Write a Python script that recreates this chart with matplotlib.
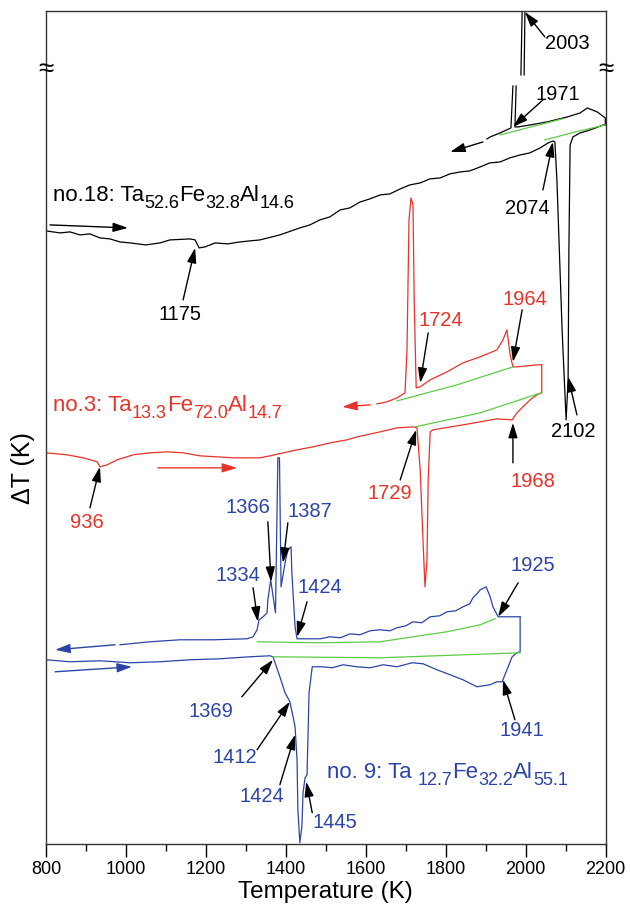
import numpy as np
import matplotlib
matplotlib.use("Agg")
import matplotlib.pyplot as plt
from matplotlib.ticker import MultipleLocator

plt.rcParams["font.family"] = ["Liberation Sans", "DejaVu Sans"]

nan = float("nan")
RED = "#e8322a"
BLUE = "#2c44a6"
GREEN = "#5ccc46"

# no.18 (black) heating run
black_heat_T = [800, 835, 860, 885, 910, 935, 960, 985, 1010, 1050, 1085, 1110, 1160, 1173,
                1183, 1198, 1223, 1255, 1285, 1335, 1385, 1435, 1460, 1485, 1510, 1536,
                1560, 1586, 1610, 1636, 1660, 1686, 1710, 1736, 1760, 1786, 1810, 1836,
                1860, 1886, 1910, 1936, 1960, 1986, 2010, 2036, 2056, 2068, 2073, 2078,
                2091, 2101, 2106, 2108, 2111, 2118, 2136, 2161, 2194, 2199]
black_heat_dT = [613, 611, 612, 609, 610, 606, 605, 602, 601, 599, 601, 604, 605, 604,
                 596, 597, 601, 600, 602, 604, 609, 616, 619, 624, 627, 634,
                 636, 642, 645, 649, 650, 655, 659, 661, 665, 666, 670, 672,
                 673, 677, 681, 682, 686, 689, 691, 696, 701, 703, 702, 664,
                 514, 424, 464, 594, 699, 707, 711, 714, 719, 719]
# no.18 cooling run (spike crosses the axis break)
black_cool_T = [2199, 2199, 2179, 2154, 2136, 2104, 2053, 2011, 1981, 1973, 1976, nan,
                1996, 1998, 1991, 1988, nan, 1968, 1963, 1936, 1911, 1903]
black_cool_dT = [719, 726, 732, 736, 731, 727, 722, 719, 717, 717, 758, nan,
                 769, 833, 833, 769, nan, 758, 716, 711, 707, 705]
black_base_up_T = [1936, 2013, 2091]
black_base_up_dT = [709, 717, 725]
black_base_lo_T = [2048, 2124, 2199]
black_base_lo_dT = [704, 712, 719]

# no.3 (red)
red_heat_T = [800, 853, 893, 928, 935, 953, 978, 1018, 1060, 1103, 1143, 1185, 1228, 1268,
              1335, 1360, 1428, 1468, 1511, 1553, 1578, 1636, 1678, 1718, 1728, 1736, 1743,
              1748, 1753, 1756, 1761, 1768, 1843, 1886, 1928, 1966, 1978, 1993, 2011, 2028,
              2040, 2040]
red_heat_dT = [391, 389, 386, 382, 377, 379, 384, 389, 391, 392, 391, 388, 387, 386,
               386, 388, 394, 397, 401, 404, 407, 412, 416, 417, 416, 374, 304,
               257, 284, 364, 412, 414, 419, 422, 425, 424, 431, 437, 444, 449,
               451, 479]
red_cool_T = [2040, 2028, 1978, 1968, 1961, 1953, 1943, 1928, 1886, 1843, 1803, 1761, 1736,
              1726, 1721, 1718, 1713, 1708, 1703, 1698, 1678, 1653, 1628]
red_cool_dT = [479, 479, 477, 477, 489, 514, 504, 494, 487, 481, 472, 464, 457,
               456, 544, 639, 646, 624, 494, 451, 446, 442, 440]
red_base_up_T = [1678, 1828, 1968]
red_base_up_dT = [443, 459, 477]
red_base_lo_T = [1723, 1886, 2038]
red_base_lo_dT = [417, 431, 451]

# no.9 (blue)
blue_heat_T = [800, 860, 935, 1010, 1085, 1160, 1235, 1310, 1360, 1368, 1373, 1385, 1398,
               1410, 1418, 1423, 1428, 1430, 1435, 1440, 1443, 1448, 1453, 1458, 1466,
               1491, 1516, 1543, 1578, 1611, 1643, 1678, 1716, 1743, 1778, 1811, 1843,
               1878, 1911, 1928, 1941, 1953, 1966, 1978, 1986, 1986]
blue_heat_dT = [184, 182, 183, 181, 182, 184, 185, 187, 188, 187, 181, 167, 151,
                142, 127, 117, 84, 34, 1, 17, 51, 66, 69, 151, 177,
                177, 176, 179, 177, 176, 179, 177, 181, 180, 174, 169, 164,
                157, 159, 162, 162, 174, 187, 191, 192, 227]
blue_cool_T = [1986, 1953, 1931, 1918, 1911, 1901, 1886, 1878, 1868, 1860, 1843, 1825, 1803,
               1785, 1761, 1740, 1718, 1700, 1678, 1660, 1636, 1611, 1585, 1561, 1536, 1510,
               1486, 1428, 1423, 1415, 1413, 1405, 1398, 1388, 1384, 1380,
               1374, 1362, 1355, 1353, 1343, 1333, 1328, 1318, 1303, 1218, 1135, 1060, 985]
blue_cool_dT = [227, 227, 227, 237, 247, 257, 254, 250, 246, 240, 237, 233, 232,
                228, 227, 221, 222, 218, 216, 213, 214, 213, 209, 210, 206, 207,
                205, 205, 217, 271, 297, 294, 281, 257, 386, 386,
                231, 264, 244, 231, 227, 224, 214, 207, 205, 204, 204, 202, 199]
blue_base_up_T = [1328, 1486, 1636, 1718, 1803, 1886, 1923]
blue_base_up_dT = [202, 201, 202, 207, 212, 219, 225]
blue_base_lo_T = [1368, 1636, 1986]
blue_base_lo_dT = [187, 186, 191]

# direction arrows: (T_from, dT_from, T_to, dT_to, colour)
run_arrows = [
    (810, 619, 1005, 616, "k"),
    (1893, 702, 1811, 692, "k"),
    (1080, 376, 1278, 376, RED),
    (1611, 439, 1541, 437, RED),
    (823, 172, 1015, 177, BLUE),
    (973, 199, 823, 194, BLUE),
]

# peak labels: (text, text_T, text_dT, tip_T, tip_dT, tail_T, tail_dT, colour)
peak_labels = [
    ("2003", 2104, 800, 1998, 832, 2048, 807, "k"),
    ("1971", 2081, 749, 1968, 717, 2043, 744, "k"),
    ("2074", 2003, 635, 2068, 702, 2043, 654, "k"),
    ("2102", 2118, 412, 2106, 467, 2128, 429, "k"),
    ("1175", 1135, 529, 1173, 596, 1143, 544, "k"),
    ("1724", 1788, 523, 1736, 461, 1756, 511, RED),
    ("1964", 1998, 544, 1968, 482, 1991, 534, RED),
    ("1968", 2018, 362, 1968, 421, 1968, 381, RED),
    ("1729", 1661, 350, 1726, 414, 1686, 364, RED),
    ("936", 903, 321, 935, 377, 910, 336, RED),
    ("1334", 1280, 268, 1330, 222, 1318, 256, BLUE),
    ("1366", 1305, 336, 1363, 262, 1355, 322, BLUE),
    ("1387", 1460, 332, 1393, 281, 1405, 321, BLUE),
    ("1424", 1486, 256, 1428, 207, 1453, 242, BLUE),
    ("1925", 2018, 278, 1931, 227, 1981, 261, BLUE),
    ("1941", 1991, 113, 1943, 164, 1973, 124, BLUE),
    ("1369", 1213, 132, 1368, 184, 1290, 147, BLUE),
    ("1412", 1273, 86, 1410, 142, 1328, 94, BLUE),
    ("1424", 1340, 47, 1423, 109, 1385, 59, BLUE),
    ("1445", 1523, 21, 1451, 62, 1466, 31, BLUE),
]

# sample names: left position (T, dT of baseline), pieces alternating normal / subscript
names = [
    (818, 643, ["no.18: Ta", "52.6", "Fe", "32.8", "Al", "14.6"], "k"),
    (818, 433, ["no.3: Ta", "13.3", "Fe", "72.0", "Al", "14.7"], RED),
    (1503, 66, ["no. 9: Ta ", "12.7", "Fe", "32.2", "Al", "55.1"], BLUE),
]

fig = plt.figure(figsize=(6.3, 9.15), dpi=100)
ax = fig.add_axes([0.073, 0.0779, 0.8884, 0.9101])

lw = 0.9
ax.plot(black_heat_T, black_heat_dT, color="k", lw=lw)
ax.plot(black_cool_T, black_cool_dT, color="k", lw=lw)
ax.plot(red_heat_T, red_heat_dT, color=RED, lw=lw)
ax.plot(red_cool_T, red_cool_dT, color=RED, lw=lw)
ax.plot(blue_heat_T, blue_heat_dT, color=BLUE, lw=lw)
ax.plot(blue_cool_T, blue_cool_dT, color=BLUE, lw=lw)
for bt, bd in [(black_base_up_T, black_base_up_dT), (black_base_lo_T, black_base_lo_dT),
               (red_base_up_T, red_base_up_dT), (red_base_lo_T, red_base_lo_dT),
               (blue_base_up_T, blue_base_up_dT), (blue_base_lo_T, blue_base_lo_dT)]:
    ax.plot(bt, bd, color=GREEN, lw=lw)

for t0, d0, t1, d1, c in run_arrows:
    ax.annotate("", xy=(t1, d1), xytext=(t0, d0),
                arrowprops=dict(arrowstyle="-|>,head_length=0.9,head_width=0.28",
                                color=c, lw=1.0, shrinkA=0, shrinkB=0))

for txt, tx, ty, ht, hd, st, sd, c in peak_labels:
    ax.annotate("", xy=(ht, hd), xytext=(st, sd),
                arrowprops=dict(arrowstyle="-|>,head_length=0.9,head_width=0.28",
                                color="k", lw=1.0, shrinkA=0, shrinkB=0))
    ax.text(tx, ty, txt, color=c, fontsize=14.5, ha="center", va="center")

# formulas built piece by piece so subscripts can be larger than mathtext allows
for x0, y0, parts, c in names:
    base = ax.text(x0, y0, parts[0], fontsize=16, color=c, ha="left", va="baseline")
    prev = base
    for i, s in enumerate(parts[1:]):
        if i % 2 == 0:
            prev = ax.annotate(s, xy=(1, 0), xycoords=(prev, base), xytext=(0, -4.5),
                               textcoords="offset points", fontsize=13, color=c,
                               ha="left", va="bottom")
        else:
            prev = ax.annotate(s, xy=(1, 0), xycoords=(prev, base), fontsize=16,
                               color=c, ha="left", va="bottom")

# axis break marks
for xb in (0, 1):
    ax.text(xb, 0.929, "\u2248", transform=ax.transAxes, fontsize=20,
            ha="center", va="center", color="k")

ax.set_xlim(800, 2200)
ax.set_ylim(0, 833)
ax.xaxis.set_major_locator(MultipleLocator(200))
ax.xaxis.set_minor_locator(MultipleLocator(100))
ax.tick_params(axis="x", which="major", direction="out", length=9, width=1.0,
               labelsize=13, top=False)
ax.tick_params(axis="x", which="minor", direction="out", length=5, width=1.0, top=False)
ax.set_yticks([])
for s in ax.spines.values():
    s.set_linewidth(1.0)
    s.set_color("#333333")

ax.set_xlabel("Temperature (K)", fontsize=17.5, labelpad=2)
ax.set_ylabel("\u0394T (K)", fontsize=18)
ax.yaxis.set_label_coords(-0.02, 0.451)

fig.savefig("out.png", dpi=100)
